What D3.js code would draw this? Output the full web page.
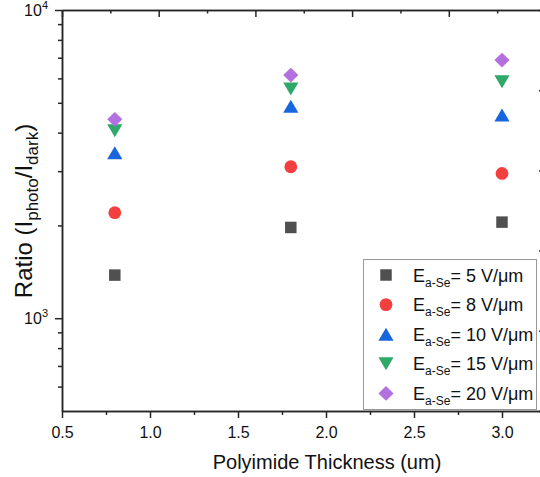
<!DOCTYPE html>
<html>
<head>
<meta charset="utf-8">
<script src="https://cdn.jsdelivr.net/npm/d3@7"></script>
<style>
  body { margin: 0; background: #fff; }
  svg { display: block; font-family: "Liberation Sans", Arial, sans-serif; }
  .axis path, .axis line { stroke: #262626; stroke-width: 1.5; }
</style>
</head>
<body>
<svg id="chart"></svg>
<script>
// thickness of the polyimide layer (um)
const thickness = [0.8, 1.8, 3.0];

// photo/dark ratio, one array per a-Se field
const ratio5 = [1380, 1970, 2050];
const ratio8 = [2200, 3100, 2950];
const ratio10 = [3440, 4870, 4560];
const ratio15 = [4060, 5540, 5850];
const ratio20 = [4420, 6150, 6880];

const fieldLabels = ["5", "8", "10", "15", "20"];
const colors = ["#505050", "#f43f3f", "#1866de", "#2ea96a", "#b46fe0"];

const xTicks = [0.5, 1.0, 1.5, 2.0, 2.5, 3.0];
const xMinorTicks = [0.75, 1.25, 1.75, 2.25, 2.75, 3.25];
const yTicks = [1000, 10000];
const yMinorTicks = [600, 700, 800, 900, 2000, 3000, 4000, 5000, 6000, 7000, 8000, 9000];

const width = 540;
const height = 477;
const mLeft = 62, mTop = 10, mRight = 546, mBottom = 411;

const series = [ratio5, ratio8, ratio10, ratio15, ratio20];

// marker shapes (fixed size, drawn around their box centre)
const shapes = [
  { draw(c) { c.rect(-5.75, -5.75, 11.5, 11.5); } },
  { draw(c) { c.moveTo(6.4, 0); c.arc(0, 0, 6.4, 0, 2 * Math.PI); } },
  { draw(c) { c.moveTo(0, -6.5); c.lineTo(7.6, 6.5); c.lineTo(-7.6, 6.5); c.closePath(); } },
  { draw(c) { c.moveTo(0, 6.5); c.lineTo(7.6, -6.5); c.lineTo(-7.6, -6.5); c.closePath(); } },
  { draw(c) { c.moveTo(0, -7.4); c.lineTo(7.6, 0); c.lineTo(0, 7.4); c.lineTo(-7.6, 0); c.closePath(); } }
];

const svg = d3.select("#chart").attr("width", width).attr("height", height);

const xScale = d3.scaleLinear().domain([0.5, 3.25]).range([mLeft, mRight]);
const yScale = d3.scaleLog().domain([500, 10000]).range([mBottom, mTop]);
// the top and right frame carry their own plain tick marks
const topScale = d3.scaleLinear().domain([0, 5]).range([mLeft, 545.5]);
const rightScale = d3.scaleLinear().domain([0, 5]).range([mBottom, mTop]);

// bottom axis
svg.append("g").attr("class", "axis")
  .attr("transform", `translate(0, ${mBottom})`)
  .call(d3.axisBottom(xScale).tickValues(xTicks).tickSize(7).tickSizeOuter(0)
    .tickPadding(9).tickFormat(d3.format(".1f")))
  .call(g => g.selectAll("text").attr("font-size", 16).attr("fill", "#111"));
svg.append("g").attr("class", "axis")
  .attr("transform", `translate(0, ${mBottom})`)
  .call(d3.axisBottom(xScale).tickValues(xMinorTicks).tickSize(4).tickSizeOuter(0).tickFormat(""));

// left axis
svg.append("g").attr("class", "axis")
  .attr("transform", `translate(${mLeft}, 0)`)
  .call(d3.axisLeft(yScale).tickValues(yTicks).tickSize(7).tickSizeOuter(0).tickFormat(""))
  .call(g => g.selectAll(".tick").each(function (d) {
    const t = d3.select(this).append("text")
      .attr("x", -14).attr("y", 5.5)
      .attr("text-anchor", "end").attr("fill", "#111");
    t.append("tspan").attr("font-size", 16).text("10");
    t.append("tspan").attr("font-size", 11).attr("dy", -7).text(Math.round(Math.log10(d)));
  }));
svg.append("g").attr("class", "axis")
  .attr("transform", `translate(${mLeft}, 0)`)
  .call(d3.axisLeft(yScale).tickValues(yMinorTicks).tickSize(4).tickSizeOuter(0).tickFormat(""));

// top and right frame
svg.append("g").attr("class", "axis")
  .attr("transform", `translate(0, ${mTop})`)
  .call(d3.axisTop(topScale).tickValues(d3.range(0, 6)).tickSize(-7).tickSizeOuter(0).tickFormat(""));
svg.append("g").attr("class", "axis")
  .attr("transform", `translate(0, ${mTop})`)
  .call(d3.axisTop(topScale).tickValues(d3.range(0.5, 5, 1)).tickSize(-3.5).tickSizeOuter(0).tickFormat(""));
svg.append("g").attr("class", "axis")
  .attr("transform", `translate(${mRight}, 0)`)
  .call(d3.axisRight(rightScale).tickValues(d3.range(0, 6)).tickSize(-7).tickSizeOuter(0).tickFormat(""));

// axis titles
svg.append("text")
  .attr("x", 327).attr("y", 469)
  .attr("text-anchor", "middle").attr("font-size", 20).attr("fill", "#111")
  .text("Polyimide Thickness (um)");

const yTitle = svg.append("text")
  .attr("transform", "translate(32, 211) rotate(-90)")
  .attr("text-anchor", "middle").attr("font-size", 24).attr("fill", "#111");
yTitle.append("tspan").text("Ratio (I");
yTitle.append("tspan").attr("font-size", 17).attr("dy", 6).text("photo");
yTitle.append("tspan").attr("dy", -6).text("/I");
yTitle.append("tspan").attr("font-size", 17).attr("dy", 6).text("dark");
yTitle.append("tspan").attr("dy", -6).text(")");

// data markers
series.forEach((vals, i) => {
  svg.append("g")
    .selectAll("path")
    .data(vals)
    .enter()
    .append("path")
    .attr("d", d3.symbol().type(shapes[i]))
    .attr("transform", (d, j) => `translate(${xScale(thickness[j])}, ${yScale(d)})`)
    .attr("fill", colors[i]);
});

// legend
const legend = svg.append("g").attr("transform", "translate(363, 259)");
legend.append("rect")
  .attr("x", 0.5).attr("y", 0.5).attr("width", 173).attr("height", 150)
  .attr("fill", "#fff").attr("stroke", "#999").attr("stroke-width", 1);

fieldLabels.forEach((f, i) => {
  const row = legend.append("g").attr("transform", `translate(0, ${16 + i * 29.6})`);
  row.append("path")
    .attr("d", d3.symbol().type(shapes[i]))
    .attr("transform", "translate(23, 0)")
    .attr("fill", colors[i]);
  const t = row.append("text").attr("x", 50).attr("y", 6.5).attr("fill", "#111").attr("font-size", 18);
  t.append("tspan").text("E");
  t.append("tspan").attr("font-size", 12).attr("dy", 5).text("a-Se");
  t.append("tspan").attr("dy", -5).text(`= ${f} V/\u03bcm`);
});
</script>
</body>
</html>
